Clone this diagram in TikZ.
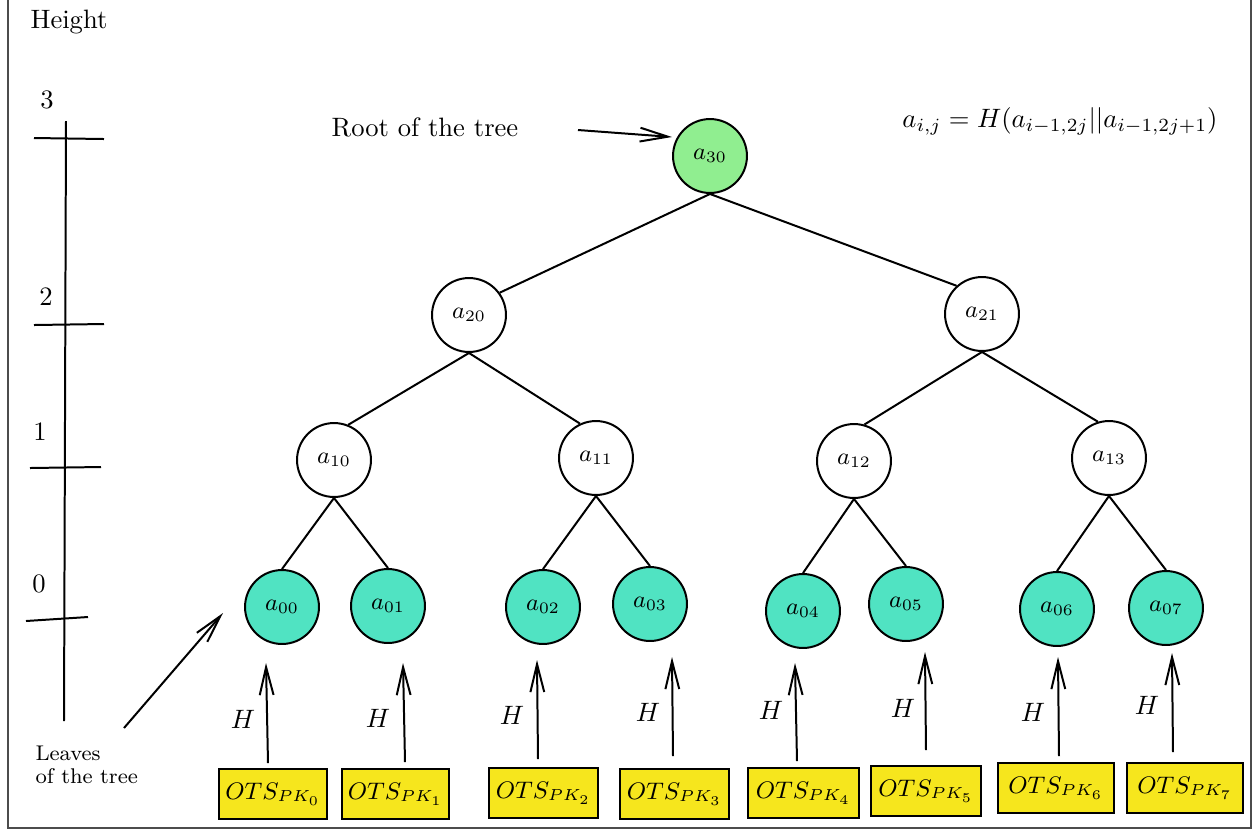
\documentclass[tikz,border=0pt]{standalone}
\usetikzlibrary{arrows.meta}
\definecolor{rootc}{RGB}{144,238,144}
\definecolor{leafc}{RGB}{80,227,194}
\definecolor{otsc}{RGB}{246,230,29}
\begin{document}
\begin{tikzpicture}[x=0.376pt,y=-0.376pt,
  tnode/.style={circle,draw,line width=0.75pt,minimum size=27.8pt,inner sep=0pt,font=\small},
  leafnode/.style={tnode,fill=leafc},
  edge/.style={line width=0.75pt},
  barb/.style={line width=0.75pt,-{Straight Barb[length=10.5pt,width=5.2pt]}},
  otsbox/.style={draw,fill=otsc,line width=0.75pt,minimum height=18.8pt,inner sep=1pt,font=\small},
  lbl/.style={anchor=base}]
\useasboundingbox (0,0) rectangle (1255,829);
\draw[gray!60!black,line width=0.5pt] (8,-5) rectangle (1251,828);

% tree nodes
\node[tnode,fill=rootc] (a30) at (710,156) {$a_{30}$};
\node[tnode] (a20) at (469,315) {$a_{20}$};
\node[tnode] (a21) at (982,314) {$a_{21}$};
\node[tnode] (a10) at (334,460) {$a_{10}$};
\node[tnode] (a11) at (596,458) {$a_{11}$};
\node[tnode] (a12) at (854,461) {$a_{12}$};
\node[tnode] (a13) at (1109,458) {$a_{13}$};
\node[leafnode] (a00) at (282,607) {$a_{00}$};
\node[leafnode] (a01) at (388,606) {$a_{01}$};
\node[leafnode] (a02) at (543,607) {$a_{02}$};
\node[leafnode] (a03) at (650,604) {$a_{03}$};
\node[leafnode] (a04) at (803,611) {$a_{04}$};
\node[leafnode] (a05) at (906,604) {$a_{05}$};
\node[leafnode] (a06) at (1057,609) {$a_{06}$};
\node[leafnode] (a07) at (1166,608) {$a_{07}$};

% edges
\draw[edge] (a30.south) -- (a20.36);
\draw[edge] (a30.south) -- (a21.132);
\draw[edge] (a20.south) -- (a10.68);
\draw[edge] (a20.south) -- (a11.115);
\draw[edge] (a21.south) -- (a12.74);
\draw[edge] (a21.south) -- (a13.107);
\draw[edge] (a10.south) -- (a00.north);
\draw[edge] (a10.south) -- (a01.north);
\draw[edge] (a11.south) -- (a02.north);
\draw[edge] (a11.south) -- (a03.north);
\draw[edge] (a12.south) -- (a04.north);
\draw[edge] (a12.south) -- (a05.north);
\draw[edge] (a13.south) -- (a06.north);
\draw[edge] (a13.south) -- (a07.north);

% OTS boxes
\node[otsbox,minimum width=40.6pt] (b0) at (273,794) {$OTS_{PK_0}$};
\node[otsbox,minimum width=40.2pt] (b1) at (395.5,794) {$OTS_{PK_1}$};
\node[otsbox,minimum width=41pt] (b2) at (543.5,793) {$OTS_{PK_2}$};
\node[otsbox,minimum width=41pt] (b3) at (674.5,794) {$OTS_{PK_3}$};
\node[otsbox,minimum width=41.7pt] (b4) at (803.5,793) {$OTS_{PK_4}$};
\node[otsbox,minimum width=41.4pt] (b5) at (926,791) {$OTS_{PK_5}$};
\node[otsbox,minimum width=43.6pt] (b6) at (1056,788) {$OTS_{PK_6}$};
\node[otsbox,minimum width=43.6pt] (b7) at (1185,788) {$OTS_{PK_7}$};

% H arrows
\coordinate (hs0) at (268,763); \coordinate (ht0) at (266,663);
\coordinate (hs1) at (405,762); \coordinate (ht1) at (403,663);
\coordinate (hs2) at (538,759); \coordinate (ht2) at (537,660);
\coordinate (hs3) at (673,756); \coordinate (ht3) at (672,657);
\coordinate (hs4) at (797,761); \coordinate (ht4) at (795,663);
\coordinate (hs5) at (926,750); \coordinate (ht5) at (925,652);
\coordinate (hs6) at (1059,756); \coordinate (ht6) at (1058,657);
\coordinate (hs7) at (1173,752); \coordinate (ht7) at (1172,653);
\foreach \i in {0,...,7} {\draw[barb] (hs\i) -- (ht\i);}
\node (h0) at (243,719) {$H$};
\node (h1) at (378,718) {$H$};
\node (h2) at (512,715) {$H$};
\node (h3) at (648,712) {$H$};
\node (h4) at (771,710) {$H$};
\node (h5) at (903,708) {$H$};
\node (h6) at (1033,712) {$H$};
\node (h7) at (1147,705) {$H$};

% height axis
\node[lbl] (height) at (69,28) {Height};
\node[lbl] (l3) at (47,108) {3};
\node[lbl] (l2) at (46,305) {2};
\node[lbl] (l1) at (40,440) {1};
\node[lbl] (l0) at (39,592) {0};
\coordinate (axtop) at (66,121); \coordinate (axbot) at (64,721);
\draw[edge] (axtop) -- (axbot);
\coordinate (t3a) at (34,138); \coordinate (t3b) at (104,139);
\coordinate (t2a) at (34,325); \coordinate (t2b) at (104,324);
\coordinate (t1a) at (30,468); \coordinate (t1b) at (101,467);
\coordinate (t0a) at (26,621); \coordinate (t0b) at (88,617);
\draw[edge] (t3a) -- (t3b);
\draw[edge] (t2a) -- (t2b);
\draw[edge] (t1a) -- (t1b);
\draw[edge] (t0a) -- (t0b);

% labels and pointers
\node[lbl] (root) at (425,136) {Root of the tree};
\coordinate (rootarr) at (578,130); \coordinate (roottip) at (672,137);
\draw[barb] (rootarr) -- (roottip);
\node[lbl] (formula) at (1060,127) {$a_{i,j} = H(a_{i-1,2j}||a_{i-1,2j+1})$};
\node[anchor=base west,inner sep=0pt,font=\footnotesize] (lv1) at (35,760) {Leaves};
\node[anchor=base west,inner sep=0pt,font=\footnotesize] (lv2) at (35,783) {of the tree};
\coordinate (lvs) at (124,728); \coordinate (lvstip) at (223,613);
\draw[barb] (lvs) -- (lvstip);
\end{tikzpicture}
\end{document}
